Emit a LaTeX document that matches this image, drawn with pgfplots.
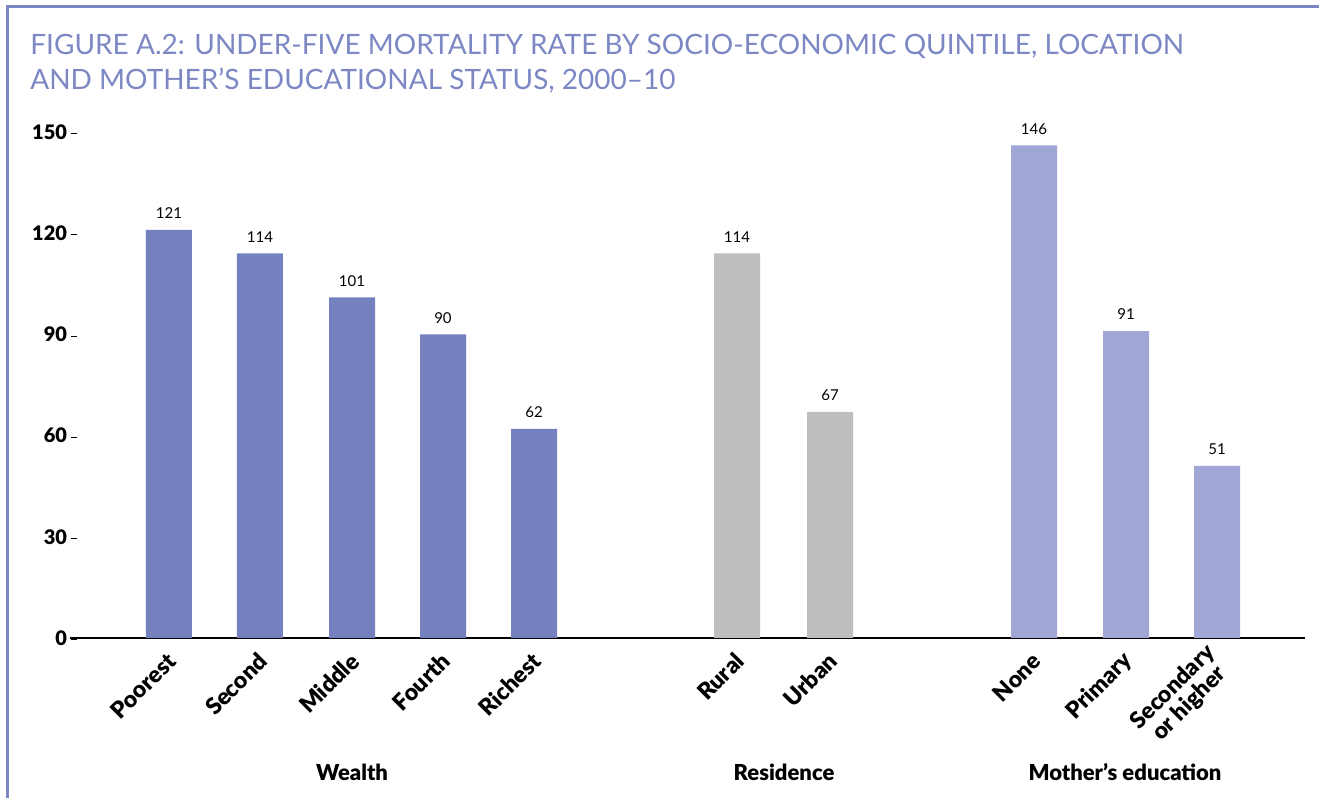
\documentclass[border=0pt]{standalone}
\usepackage{pgfplots}
\pgfplotsset{compat=1.18}
\usepackage{fontspec}
\setmainfont{Lato}[BoldFont={Lato Black}]
\definecolor{framec}{HTML}{7B86C3}
\definecolor{titlec}{HTML}{7C87C4}
\definecolor{wealthc}{HTML}{7581BE}
\definecolor{resc}{HTML}{BDBEC0}
\definecolor{educ}{HTML}{A0A6D5}
\begin{document}
\begin{tikzpicture}
\path[use as bounding box] (0,0) rectangle (659.5pt,399pt);
\draw[framec, line width=1.5pt] (3.5pt,0) -- (3.5pt,395.5pt) -- (659.5pt,395.5pt);
\node[anchor=base west, inner sep=0, text=titlec, font=\fontsize{14}{17}\selectfont] at (15pt,371.5pt) {FIGURE A.2: UNDER-FIVE MORTALITY RATE BY SOCIO-ECONOMIC QUINTILE, LOCATION};
\node[anchor=base west, inner sep=0, text=titlec, font=\fontsize{14}{17}\selectfont] at (15pt,354pt) {AND MOTHER’S EDUCATIONAL STATUS, 2000–10};
\begin{axis}[
  at={(35pt,80pt)}, anchor=south west, scale only axis,
  width=617.5pt, height=253pt,
  xmin=70, xmax=1305, ymin=0, ymax=150,
  axis x line*=bottom, axis y line*=left,
  y axis line style={draw=none},
  x axis line style={-, line width=1pt},
  xtick style={draw=none}, ytick style={draw=none},
  /pgf/number format/assume math mode=true,
  ytick={0,30,60,90,120,150},
  yticklabel={\textbf{\pgfmathprintnumber{\tick}}\hspace{2pt}\rule[0.26em]{2.8pt}{0.4pt}},
  yticklabel style={anchor=east, inner sep=0pt, xshift=3.5pt, font=\fontsize{10}{11}\selectfont},
  xtick={169,260,352,443,534,737,830,1034,1126,1217},
  xticklabels={Poorest,Second,Middle,Fourth,Richest,Rural,Urban,None,Primary,{Secondary\\or higher}},
  xticklabel style={xshift=1.5pt, yshift=-9.5pt, rotate=45, anchor=east, inner sep=0pt, align=center, font=\fontsize{11.5}{11.5}\selectfont\bfseries},
  nodes near coords={\pgfmathprintnumber{\pgfplotspointmeta}},
  every node near coord/.append style={font=\fontsize{7.5}{8}\selectfont, black, yshift=2pt},
  clip=false,
]
\addplot[ybar, bar width=46, fill=wealthc, draw=none] coordinates {(169,121) (260,114) (352,101) (443,90) (534,62)};
\addplot[ybar, bar width=46, fill=resc, draw=none] coordinates {(737,114) (830,67)};
\addplot[ybar, bar width=46, fill=educ, draw=none] coordinates {(1034,146) (1126,91) (1217,51)};
\end{axis}
\node[font=\fontsize{11}{12}\selectfont\bfseries, anchor=base] at (176pt,8.5pt) {Wealth};
\node[font=\fontsize{11}{12}\selectfont\bfseries, anchor=base] at (392pt,8.5pt) {Residence};
\node[font=\fontsize{11}{12}\selectfont\bfseries, anchor=base] at (562.5pt,8.5pt) {Mother’s education};
\end{tikzpicture}
\end{document}
